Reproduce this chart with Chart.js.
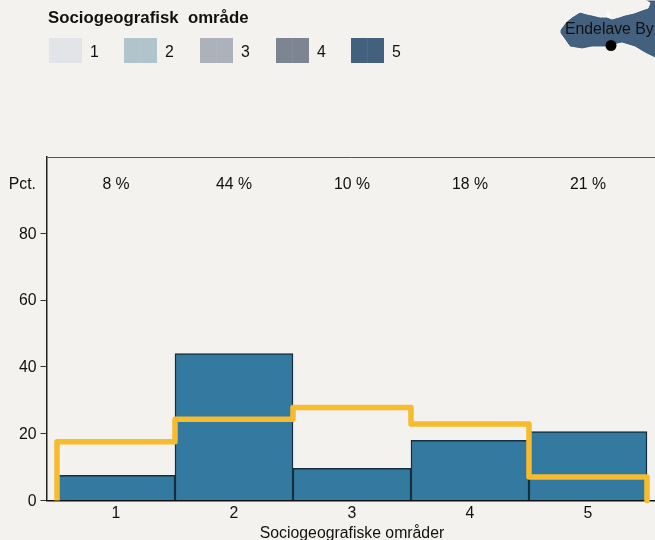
<!DOCTYPE html>
<html lang="da">
<head>
<meta charset="utf-8">
<title>Sociogeografisk område</title>
<script src="https://cdn.jsdelivr.net/npm/chart.js@4"></script>
<style>
  html, body { margin: 0; padding: 0; background: #f4f2ee; }
  body { position: relative; width: 655px; height: 540px; overflow: hidden; font-family: "Liberation Sans", Arial, sans-serif; color: #111; }
  canvas { position: absolute; left: 0; top: 0; }
  .legend-title { position: absolute; left: 48px; top: 8px; font-size: 16.8px; line-height: 19px; font-weight: 700; white-space: pre; }
  .swatch { position: absolute; top: 38px; width: 33px; height: 25px; }
  .swatch::after { content: ''; position: absolute; left: 16px; top: 0; width: 1px; height: 100%; background: rgba(255,255,255,.06); }
  .swatch-label { position: absolute; top: 43px; font-size: 15.8px; line-height: 18px; }
  #map { position: absolute; left: 540px; top: 0; }
  .map-label { position: absolute; left: 565px; top: 20px; font-size: 15.8px; line-height: 18px; white-space: nowrap; }
</style>
</head>
<body>
<canvas id="chart" width="655" height="540"></canvas>

<div class="legend-title">Sociogeografisk  område</div>
<div id="legend"></div>

<svg id="map" width="115" height="70" viewBox="540 0 115 70">
  <path fill="#44607f" stroke="#fbfaf8" stroke-width="1" d="M560 30 L566 22 L572 17 L580 12 L587 14 L592 15 L600 17 L607 17 L612 19 L619 17 L625 15 L634 13 L642 10 L648 8 L650 3 L645 0 L660 0 L660 60 L655 58 L645 53 L635 47 L622 43 L613 45 L605 47 L592 47 L582 49 L570 47 L565 40 L560 33 Z"/>
  <path fill="#fbfaf8" d="M606 17 L606 12 L610 12 L611 18 Z"/>
  <circle cx="611" cy="45.5" r="5.5" fill="#000"/>
</svg>
<div class="map-label">Endelave By</div>

<script>
  /* ── Data ─────────────────────────────────────────────────── */
  const AREAS        = [1, 2, 3, 4, 5];
  const AREA_SHARE   = [7.5, 44, 9.6, 18, 20.6];
  const COMPARE      = [17.6, 24.3, 27.8, 22.9, 7];
  const SHARE_LABELS = ['8 %', '44 %', '10 %', '18 %', '21 %'];
  const Y_TICKS      = [0, 20, 40, 60, 80];
  const LEGEND_NAMES = ['1', '2', '3', '4', '5'];

  const LEGEND_COLORS = ['#e1e5e7', '#b0c4cc', '#adb1b9', '#7e8592', '#44607f'];
  const LEGEND_LEFT   = [49, 124, 200, 276, 351];

  const FONT_FAMILY = '"Liberation Sans", Arial, sans-serif';
  const FONT_SIZE   = 15.8;

  /* ── Legend ───────────────────────────────────────────────── */
  document.getElementById('legend').innerHTML = LEGEND_NAMES.map((name, i) => `
    <div class="swatch" style="left:${LEGEND_LEFT[i]}px;background:${LEGEND_COLORS[i]}"></div>
    <div class="swatch-label" style="left:${LEGEND_LEFT[i] + 41}px">${name}</div>`).join('');

  /* ── Step line: up from 0, across each area, back down to 0 ── */
  const stepPoints = [{ x: AREAS[0] - 0.5, y: 0 }];
  AREAS.forEach((a, i) => {
    stepPoints.push({ x: a - 0.5, y: COMPARE[i] });
    stepPoints.push({ x: a + 0.5, y: COMPARE[i] });
  });
  stepPoints.push({ x: AREAS[AREAS.length - 1] + 0.5, y: 0 });

  /* ── Top frame, percent row and axis captions ─────────────── */
  const annotations = {
    id: 'annotations',
    afterDraw(chart) {
      const { ctx, chartArea, scales } = chart;
      ctx.save();
      ctx.strokeStyle = '#555';
      ctx.lineWidth = 1;
      ctx.beginPath();
      ctx.moveTo(chartArea.left, chartArea.top + 0.5);
      ctx.lineTo(chartArea.right, chartArea.top + 0.5);
      ctx.stroke();

      ctx.fillStyle = '#111';
      ctx.font = `${FONT_SIZE}px ${FONT_FAMILY}`;
      ctx.textAlign = 'center';
      ctx.textBaseline = 'middle';
      AREAS.forEach((a, i) => ctx.fillText(SHARE_LABELS[i], scales.x.getPixelForValue(a), 185));
      ctx.fillText('Sociogeografiske områder', scales.x.getPixelForValue(3), 533.5);
      ctx.textAlign = 'right';
      ctx.fillText('Pct.', 36, 185);
      ctx.restore();
    },
  };

  /* ── Chart ────────────────────────────────────────────────── */
  new Chart(document.getElementById('chart'), {
    data: {
      datasets: [
        {
          type: 'line',
          data: stepPoints,
          borderColor: '#f7bb2d',
          borderWidth: 5.5,
          borderJoinStyle: 'round',
          pointRadius: 0,
          tension: 0,
          clip: false,
          order: 0,
        },
        {
          type: 'bar',
          data: AREAS.map((a, i) => ({ x: a, y: AREA_SHARE[i] })),
          backgroundColor: '#347aa0',
          borderColor: '#12303f',
          borderWidth: 1.5,
          barPercentage: 1,
          categoryPercentage: 1,
          order: 1,
        },
      ],
    },
    plugins: [annotations],
    options: {
      responsive: false,
      animation: false,
      layout: { padding: { top: 157, left: 0, right: 0, bottom: 0 } },
      plugins: { legend: { display: false }, tooltip: { enabled: false } },
      scales: {
        x: {
          type: 'linear',
          offset: false,
          min: 0.411,
          max: 5.568,
          afterFit: s => { s.height = 39.5; },
          afterBuildTicks: s => { s.ticks = AREAS.map(value => ({ value })); },
          border: { color: '#111', width: 1.5 },
          grid: { display: false, drawTicks: false },
          ticks: { color: '#111', padding: 4, maxRotation: 0, font: { family: FONT_FAMILY, size: FONT_SIZE } },
        },
        y: {
          min: 0,
          max: 102.8,
          afterFit: s => { s.width = 46.5; },
          afterBuildTicks: s => { s.ticks = Y_TICKS.map(value => ({ value })); },
          border: { color: '#222', width: 1.5 },
          grid: { drawOnChartArea: false, drawTicks: true, tickLength: 6, color: '#333' },
          ticks: { color: '#111', padding: 4, labelOffset: 1, font: { family: FONT_FAMILY, size: FONT_SIZE } },
        },
      },
    },
  });
</script>
</body>
</html>
